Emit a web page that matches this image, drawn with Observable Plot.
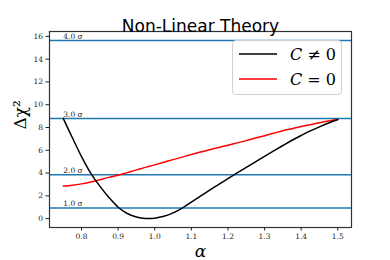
<!DOCTYPE html>
<html>
<head>
<meta charset="utf-8">
<script src="https://cdn.jsdelivr.net/npm/d3@7"></script>
<script src="https://cdn.jsdelivr.net/npm/@observablehq/plot@0.6"></script>
<style>
  html, body { margin: 0; padding: 0; background: #fff; }
  #wrap { position: relative; width: 390px; height: 260px; }
  #wrap svg text { font-family: 'DejaVu Serif', serif; }
  #wrap svg text.ttl { font-family: 'DejaVu Sans', sans-serif; }
  #legend {
    position: absolute; left: 232px; top: 40px; width: 108px; height: 53px;
    border: 1px solid #d0d0d0; border-radius: 4px; background: rgba(255,255,255,0.85);
    font-family: 'DejaVu Serif', serif; font-size: 16px;
  }
  .row { position: absolute; left: 6px; display: flex; align-items: center; }
  .row svg { display: block; }
  .row span { margin-left: 13px; white-space: nowrap; }
</style>
</head>
<body>
<div id="wrap"></div>
<script>
// ---- data ----
const alpha = [0.75, 0.775, 0.8, 0.825, 0.85, 0.875, 0.9, 0.925, 0.95, 0.975, 1.0, 1.025, 1.05, 1.075, 1.1, 1.125, 1.15, 1.175, 1.2, 1.225, 1.25, 1.275, 1.3, 1.325, 1.35, 1.375, 1.4, 1.425, 1.45, 1.475, 1.5];
const chiNonZeroC = [8.8, 7.1, 5.45, 4.0, 2.85, 1.85, 1.0, 0.45, 0.14, 0.01, 0.04, 0.2, 0.5, 0.93, 1.45, 1.98, 2.5, 3.01, 3.51, 4.01, 4.5, 4.99, 5.47, 5.95, 6.42, 6.88, 7.3, 7.7, 8.06, 8.4, 8.7];
const chiZeroC = [2.86, 2.93, 3.05, 3.22, 3.42, 3.62, 3.8, 4.04, 4.28, 4.5, 4.72, 4.95, 5.18, 5.4, 5.63, 5.85, 6.05, 6.25, 6.45, 6.65, 6.85, 7.07, 7.28, 7.5, 7.72, 7.9, 8.08, 8.25, 8.42, 8.57, 8.7];
const sigmaLevels = [0.93, 3.86, 8.8, 15.65];
const sigmaLabels = ["1.0 σ", "2.0 σ", "3.0 σ", "4.0 σ"];
const xTicks = [0.8, 0.9, 1.0, 1.1, 1.2, 1.3, 1.4, 1.5];
const yTicks = [0, 2, 4, 6, 8, 10, 12, 14, 16];
const titleText = "Non-Linear Theory";
const seriesNames = ["C ≠ 0", "C = 0"];
const seriesColors = ["#000000", "#ff0000"];

const rowsA = alpha.map((a, i) => ({a, v: chiNonZeroC[i]}));
const rowsB = alpha.map((a, i) => ({a, v: chiZeroC[i]}));
const sig = sigmaLevels.map((v, i) => ({v, label: sigmaLabels[i]}));

const chart = Plot.plot({
  width: 390,
  height: 260,
  marginLeft: 49,
  marginRight: 39,
  marginTop: 31,
  marginBottom: 33,
  style: {fontSize: "8px", color: "#222", background: "#fff"},
  x: {domain: [0.7125, 1.5375]},
  y: {domain: [-0.78, 16.43]},
  marks: [
    Plot.ruleY(sig, {y: "v", stroke: "#1f77b4", strokeWidth: 1.5}),
    Plot.text(sig, {x: 0.75, y: "v", text: "label", textAnchor: "start", dy: -4, fontSize: 7.5, fill: "#222"}),
    Plot.line(rowsB, {x: "a", y: "v", stroke: seriesColors[1], strokeWidth: 1.5, curve: "catmull-rom"}),
    Plot.line(rowsA, {x: "a", y: "v", stroke: seriesColors[0], strokeWidth: 1.5, curve: "catmull-rom"}),
    Plot.frame({stroke: "#333", strokeWidth: 1.2}),
    Plot.axisX({ticks: xTicks, tickFormat: d => d.toFixed(1), tickSize: 3.5, tickPadding: 3, fontSize: 7.5, label: null}),
    Plot.axisY({ticks: yTicks, tickFormat: d => String(d), tickSize: 3.5, tickPadding: 3, fontSize: 7.5, label: null}),
    Plot.text([titleText], {frameAnchor: "top", dy: -12, fontSize: 17, fill: "#000"}),
    Plot.text(["α"], {frameAnchor: "bottom", dy: 29, fontSize: 17, fontStyle: "italic", fill: "#000"}),
    Plot.text(["Δχ²"], {frameAnchor: "left", dx: -29, rotate: -90, fontSize: 17, fill: "#000"})
  ]
});

const wrap = document.getElementById("wrap");
wrap.appendChild(chart);
chart.querySelectorAll("text").forEach(t => { if (t.textContent === titleText) t.setAttribute("class", "ttl"); });

const legend = document.createElement("div");
legend.id = "legend";
seriesNames.forEach((name, i) => {
  const row = document.createElement("div");
  row.className = "row";
  row.style.top = (i === 0 ? 3 : 28) + "px";
  const parts = name.split(" ");
  row.innerHTML = `<svg width="38" height="20"><line x1="0" x2="38" y1="10" y2="10" stroke="${seriesColors[i]}" stroke-width="1.5"/></svg>` +
    `<span><i>${parts[0]}</i> ${parts[1]} ${parts[2]}</span>`;
  legend.appendChild(row);
});
wrap.appendChild(legend);
</script>
</body>
</html>
